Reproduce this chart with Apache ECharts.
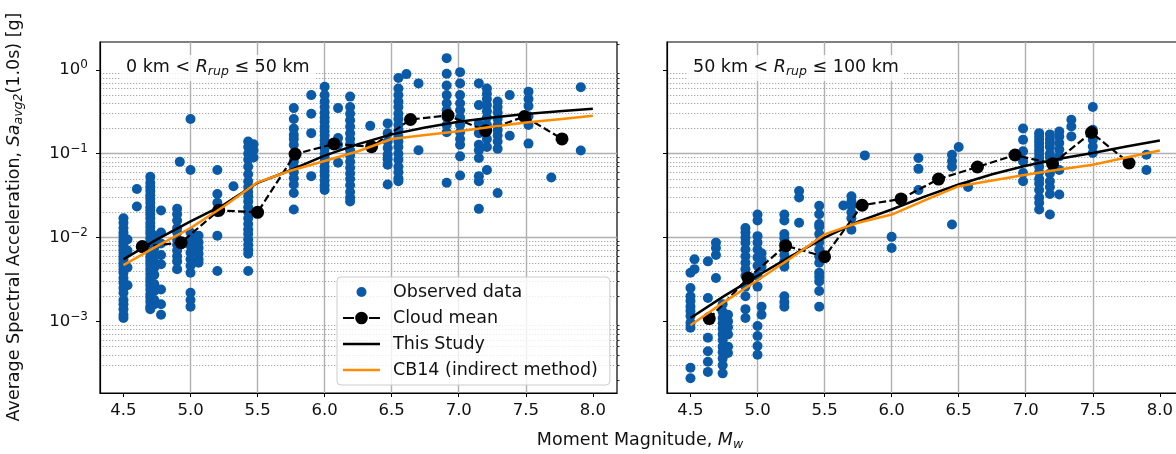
<!DOCTYPE html>
<html><head><meta charset="utf-8">
<script src="https://cdn.jsdelivr.net/npm/echarts@6/dist/echarts.min.js"></script>
<style>html,body{margin:0;padding:0;background:#fff}#c{width:1176px;height:454px}</style>
</head><body><div id="c"></div>
<script>
// ---------------- data ----------------
const xTicks = [4.5, 5.0, 5.5, 6.0, 6.5, 7.0, 7.5, 8.0];
const yMajorTicks = [0.001, 0.01, 0.1, 1];
const yTickExponents = ['\u22123', '\u22122', '\u22121', '0'];
const xRange = [4.325, 8.18];
const yRange = [1.4e-4, 2.15];

// Observed data, 0 km < Rrup <= 50 km : [magnitude, [values in g]]
const obsNear = [
  [4.50, [0.017,0.015,0.013,0.0115,0.0105,0.0095,0.0087,0.0079,0.0072,0.0066,0.006,0.0055,0.005,0.0046,0.0042,0.0038,0.0033,0.0029,0.0025,0.0022,0.0018,0.0016,0.0014,0.0012,0.0011]],
  [4.53, [0.0095,0.007,0.0044,0.0027]],
  [4.60, [0.038,0.0235]],
  [4.70, [0.053,0.045,0.04,0.036,0.032,0.029,0.026,0.023,0.021,0.019,0.017,0.015,0.0135,0.012,0.011,0.0098,0.0088,0.008,0.0072,0.0065,0.0058,0.0052,0.0047,0.0042,0.0037,0.0033,0.003,0.0027,0.0024,0.0021,0.0019,0.0017,0.0015,0.0014]],
  [4.73, [0.0105,0.009,0.0075,0.0062,0.0051,0.0044,0.0036,0.0028,0.0023,0.0018,0.0016]],
  [4.78, [0.021,0.0115,0.0085,0.0062,0.0048,0.0024,0.0016,0.0012]],
  [4.90, [0.022,0.019,0.016,0.013,0.0115,0.0095,0.0082,0.007,0.006,0.0052,0.0042]],
  [4.92, [0.08]],
  [5.00, [0.26,0.064,0.0115,0.0095,0.008,0.0066,0.0055,0.0046,0.0038,0.0022,0.0018,0.0015]],
  [5.06, [0.0105,0.0088,0.0075,0.0064,0.0055,0.005]],
  [5.20, [0.064,0.033,0.026,0.02,0.0105,0.004]],
  [5.32, [0.041]],
  [5.43, [0.14,0.12,0.1,0.085,0.07,0.057,0.047,0.04,0.035,0.031,0.027,0.023,0.02,0.017,0.0145,0.0125,0.011,0.0095,0.0082,0.0072,0.0064,0.004]],
  [5.47, [0.13,0.11,0.09]],
  [5.77, [0.35,0.26,0.2,0.168,0.15,0.128,0.097,0.081,0.07,0.06,0.051,0.043,0.034,0.0216]],
  [5.90, [0.5,0.3,0.176,0.054]],
  [6.00, [0.63,0.5,0.42,0.36,0.31,0.27,0.24,0.21,0.185,0.165,0.145,0.13,0.115,0.1,0.09,0.08,0.07,0.062,0.055,0.048,0.042,0.037]],
  [6.10, [0.35,0.154,0.128,0.078]],
  [6.19, [0.48,0.36,0.3,0.25,0.21,0.175,0.15,0.13,0.11,0.095,0.08,0.068,0.058,0.05,0.042,0.035,0.03,0.027]],
  [6.34, [0.215]],
  [6.47, [0.23,0.176,0.14,0.117,0.097,0.086,0.074,0.043]],
  [6.55, [0.8,0.6,0.5,0.42,0.36,0.3,0.26,0.22,0.19,0.16,0.14,0.12,0.1,0.085,0.07,0.06,0.051,0.047]],
  [6.61, [0.89]],
  [6.70, [0.69,0.11]],
  [6.91, [1.38,0.9,0.65,0.5,0.4,0.33,0.27,0.22,0.18,0.045]],
  [7.01, [0.94,0.69,0.5,0.4,0.33,0.27,0.22,0.18,0.15,0.128,0.093,0.055]],
  [7.15, [0.69,0.38,0.23,0.176,0.128,0.11,0.089,0.054,0.047,0.022]],
  [7.21, [0.6,0.52,0.45,0.38,0.32,0.27,0.22,0.19,0.15,0.12,0.064]],
  [7.29, [0.42,0.36,0.31,0.26,0.22,0.19,0.165,0.14,0.115,0.034]],
  [7.38, [0.5,0.164]],
  [7.52, [0.55,0.45,0.37,0.28,0.22,0.132]],
  [7.69, [0.052]],
  [7.91, [0.62,0.109]]
];

// Observed data, 50 km < Rrup <= 100 km
const obsFar = [
  [4.50, [0.0038,0.0025,0.002,0.00175,0.0015,0.00133,0.00116,0.00096,0.00084,0.00028,0.00021]],
  [4.53, [0.0055,0.0042]],
  [4.63, [0.0052,0.0019,0.00064,0.00044,0.00033,0.00025]],
  [4.69, [0.0087,0.0075,0.0062,0.0033]],
  [4.74, [0.0016,0.0013,0.0011,0.00095,0.00082,0.0007,0.0006,0.0005,0.00043,0.00036,0.0003,0.00024]],
  [4.78, [0.0012,0.001,0.00085,0.0007,0.0005,0.00042]],
  [4.91, [0.013,0.0115,0.01,0.0087,0.0072,0.006,0.005,0.0042,0.0035,0.0026,0.002,0.0014,0.0011]],
  [5.00, [0.0188,0.016,0.0104,0.0087,0.0072,0.0058,0.0046,0.0035,0.0026,0.00088,0.00067,0.00051,0.0004]],
  [5.03, [0.0065,0.0055,0.0045,0.0015,0.0012]],
  [5.20, [0.0188,0.016,0.011,0.0098,0.0085,0.0072,0.0062,0.0052,0.0045,0.002,0.0017,0.0015]],
  [5.31, [0.036,0.03,0.015]],
  [5.46, [0.024,0.019,0.0145,0.0135,0.011,0.0088,0.0072,0.006,0.005,0.0038,0.0034,0.003,0.0023,0.0015]],
  [5.64, [0.0241]],
  [5.70, [0.031,0.027,0.024,0.02,0.017,0.0124]],
  [5.80, [0.0955]],
  [6.00, [0.0102,0.0075]],
  [6.20, [0.089,0.066,0.037]],
  [6.45, [0.097,0.082,0.07,0.0143]],
  [6.50, [0.12]],
  [6.57, [0.04]],
  [6.98, [0.2,0.147,0.107,0.081,0.059,0.047]],
  [7.10, [0.176,0.16,0.147,0.134,0.122,0.11,0.1,0.09,0.081,0.07,0.06,0.05,0.044,0.037,0.03,0.026,0.0216]],
  [7.18, [0.17,0.15,0.134,0.12,0.1,0.09,0.058,0.047,0.04,0.033,0.0188]],
  [7.25, [0.184,0.16,0.134,0.112,0.093,0.064,0.0326]],
  [7.34, [0.254,0.211,0.161]],
  [7.50, [0.36,0.193,0.147,0.122,0.102]],
  [7.90, [0.097,0.064]]
];

// Cloud means (binned)
const meanMag  = [4.64, 4.93, 5.21, 5.50, 5.78, 6.07, 6.35, 6.64, 6.92, 7.20, 7.49, 7.77];
const meanNear = [0.0078, 0.0087, 0.0211, 0.020, 0.099, 0.131, 0.121, 0.256, 0.286, 0.188, 0.278, 0.15];
const meanFar  = [0.00108, 0.0033, 0.008, 0.0059, 0.0243, 0.0289, 0.0499, 0.0694, 0.0965, 0.076, 0.179, 0.0775];

// Model curves
const curveMag  = [4.5, 4.75, 5.0, 5.25, 5.5, 5.75, 6.0, 6.25, 6.5, 6.75, 7.0, 7.25, 7.5, 7.75, 8.0];
const studyNear = [0.0055, 0.0095, 0.0156, 0.0247, 0.045, 0.064, 0.095, 0.13, 0.17, 0.205, 0.24, 0.27, 0.298, 0.322, 0.343];
const cbNear    = [0.0047, 0.0079, 0.013, 0.0236, 0.0456, 0.063, 0.082, 0.107, 0.15, 0.167, 0.185, 0.21, 0.235, 0.258, 0.283];
const studyFar  = [0.0011, 0.002, 0.0035, 0.006, 0.0100, 0.0155, 0.0216, 0.031, 0.043, 0.057, 0.072, 0.087, 0.102, 0.122, 0.144];
const cbFar     = [0.0009, 0.0017, 0.0031, 0.0057, 0.0109, 0.015, 0.0188, 0.028, 0.041, 0.048, 0.056, 0.065, 0.074, 0.09, 0.109];

const panelLabels = ['0 km < {i|R}{s|rup} \u2264 50 km', '50 km < {i|R}{s|rup} \u2264 100 km'];

// ---------------- helpers ----------------
function flatten(cols) { const out = []; cols.forEach(([m, vals]) => vals.forEach(v => out.push([m, v]))); return out; }
function pairs(xs, ys) { return xs.map((x, i) => [x, ys[i]]); }
const yMinorTicks = [];
for (let e = -4; e <= 0; e++) for (let k = 2; k <= 9; k++) {
  const v = k * Math.pow(10, e);
  if (v > yRange[0] && v < yRange[1]) yMinorTicks.push(v);
}

const FF = 'DejaVu Sans';
const FS = 16.5;   // tick labels
const FL = 17.5;   // other text
const TXT = '#111';
const BLUE = '#0a5aa8';
const ORANGE = '#ff8c00';

const grids = [
  { left: 100, top: 42, width: 517, height: 351, show: true, borderColor: '#000', borderWidth: 1.2, backgroundColor: 'transparent', outerBoundsMode: 'none' },
  { left: 667, top: 42, width: 517, height: 351, show: true, borderColor: '#000', borderWidth: 1.2, backgroundColor: 'transparent', outerBoundsMode: 'none' }
];

const xAxes = [0, 1].map(i => ({
  type: 'value', gridIndex: i, min: xRange[0], max: xRange[1],
  axisLine: { show: true, onZero: false, lineStyle: { color: '#000', width: 1.2 } },
  axisTick: { show: true, length: 4, customValues: xTicks, lineStyle: { color: '#000', width: 1 } },
  axisLabel: { show: true, customValues: xTicks, fontSize: FS, fontFamily: FF, color: TXT, margin: 9,
    formatter: v => v.toFixed(1) },
  splitLine: { show: true, showMinLine: false, showMaxLine: false, lineStyle: { color: '#b0b0b0', width: 1.4 } }
}));

const supRich = {
  b: { fontSize: FS, fontFamily: FF, color: TXT },
  s: { fontSize: 12, fontFamily: FF, color: TXT, padding: [0, 0, 9, 0] }
};

const yAxes = [];
[0, 1].forEach(i => {
  yAxes.push({
    type: 'log', gridIndex: i, min: yRange[0], max: yRange[1], logBase: 10,
    axisLine: { show: true, onZero: false, lineStyle: { color: '#000', width: 1.2 } },
    axisTick: { show: true, length: 4, customValues: yMajorTicks, lineStyle: { color: '#000', width: 1 } },
    axisLabel: { show: i === 0, customValues: yMajorTicks, margin: 12,
      formatter: v => {
        const e = Math.round(Math.log10(v));
        const idx = yMajorTicks.findIndex(t => Math.round(Math.log10(t)) === e);
        return '{b|10}{s|' + yTickExponents[idx] + '}';
      },
      rich: supRich },
    splitLine: { show: true, showMinLine: false, showMaxLine: false, lineStyle: { color: '#b0b0b0', width: 1.4 } }
  });
  yAxes.push({
    type: 'log', gridIndex: i, min: yRange[0], max: yRange[1], logBase: 10,
    axisLine: { show: false },
    axisTick: { show: true, length: 2.5, customValues: yMinorTicks, lineStyle: { color: '#000', width: 0.8 } },
    axisLabel: { show: false },
    splitLine: { show: true, showMinLine: false, showMaxLine: false, lineStyle: { color: '#a8a8a8', width: 1, type: [1.3, 1.7] } }
  });
});

function panelSeries(i, obs, mean, study, cb) {
  return [
    { name: 'Observed data', type: 'scatter', xAxisIndex: i, yAxisIndex: 2 * i, data: flatten(obs),
      symbol: 'circle', symbolSize: 10, itemStyle: { color: BLUE, opacity: 1 }, color: BLUE, z: 2 },
    { name: 'Cloud mean', type: 'line', xAxisIndex: i, yAxisIndex: 2 * i, data: pairs(meanMag, mean),
      symbol: 'circle', symbolSize: 13, showSymbol: true, color: '#000',
      itemStyle: { color: '#000' }, lineStyle: { color: '#000', width: 2.2, type: [7.5, 3.3] }, z: 3 },
    { name: 'This Study', type: 'line', xAxisIndex: i, yAxisIndex: 2 * i, data: pairs(curveMag, study),
      symbol: 'none', showSymbol: false, color: '#000',
      itemStyle: { color: '#000' }, lineStyle: { color: '#000', width: 2.5 }, z: 4 },
    { name: 'CB14 (indirect method)', type: 'line', xAxisIndex: i, yAxisIndex: 2 * i, data: pairs(curveMag, cb),
      symbol: 'none', showSymbol: false, color: ORANGE,
      itemStyle: { color: ORANGE }, lineStyle: { color: ORANGE, width: 2.5 }, z: 5 }
  ];
}

const iconObs  = 'path://M0,0M37,13M23.5,6.5a5,5 0 1,0 -10,0a5,5 0 1,0 10,0z';
const iconMean = 'path://M0,0M37,13M0,5.4h11v2.2h-11zM26,5.4h11v2.2h-11zM24.8,6.5a6.3,6.3 0 1,0 -12.6,0a6.3,6.3 0 1,0 12.6,0z';
const iconLine = 'path://M0,0M37,13M0,5.25h37v2.5h-37z';

const titleStyle = {
  fontSize: FL, fontFamily: FF, color: TXT, fontWeight: 'normal',
  rich: {
    i: { fontSize: FL, fontFamily: FF, fontStyle: 'italic', color: TXT },
    s: { fontSize: 12.5, fontFamily: FF, fontStyle: 'italic', color: TXT, padding: [9, 0, 0, 0] }
  }
};

const labelRich = {
  i: { fontSize: FL, fontFamily: FF, fontStyle: 'italic', fill: TXT },
  s: { fontSize: 12.5, fontFamily: FF, fontStyle: 'italic', fill: TXT, padding: [9, 0, 0, 0] }
};

const option = {
  animation: false,
  backgroundColor: '#fff',
  grid: grids,
  xAxis: xAxes,
  yAxis: yAxes,
  title: [
    { text: panelLabels[0], left: 121, top: 53, padding: [3, 5, 3, 5], backgroundColor: 'rgba(255,255,255,0.8)', textStyle: titleStyle },
    { text: panelLabels[1], left: 688, top: 53, padding: [3, 5, 3, 5], backgroundColor: 'rgba(255,255,255,0.8)', textStyle: titleStyle }
  ],
  legend: {
    left: 337, top: 277, orient: 'vertical', selectedMode: false,
    itemWidth: 37, itemHeight: 13, itemGap: 6,
    padding: [5, 12, 5, 6],
    backgroundColor: 'rgba(255,255,255,0.8)', borderColor: '#cccccc', borderWidth: 1, borderRadius: 4,
    textStyle: { fontSize: FL, fontFamily: FF, color: TXT, lineHeight: 20, padding: [0, 0, 0, 8] },
    data: [
      { name: 'Observed data', icon: iconObs },
      { name: 'Cloud mean', icon: iconMean },
      { name: 'This Study', icon: iconLine },
      { name: 'CB14 (indirect method)', icon: iconLine }
    ]
  },
  graphic: [
    { type: 'text', x: 640, y: 440, style: {
        text: 'Moment Magnitude, {i|M}{s|w}', fontSize: FL, fontFamily: FF, fill: TXT,
        align: 'center', verticalAlign: 'middle', rich: labelRich } },
    { type: 'text', x: 14, y: 217, rotation: Math.PI / 2, style: {
        text: 'Average Spectral Acceleration, {i|Sa}{s|avg2}(1.0s) [g]', fontSize: FL, fontFamily: FF, fill: TXT,
        align: 'center', verticalAlign: 'middle', rich: labelRich } }
  ],
  series: [].concat(
    panelSeries(0, obsNear, meanNear, studyNear, cbNear),
    panelSeries(1, obsFar, meanFar, studyFar, cbFar)
  )
};

const chart = echarts.init(document.getElementById('c'), null, { renderer: 'canvas', width: 1176, height: 454 });
chart.setOption(option);
</script>
</body></html>
